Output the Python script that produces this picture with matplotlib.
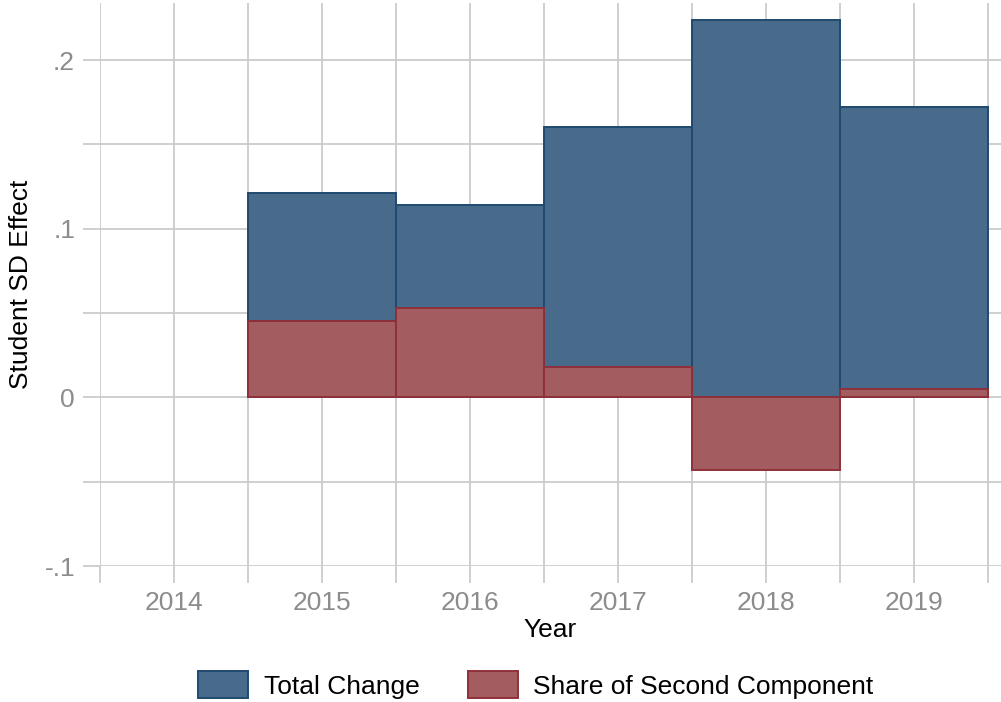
import numpy as np
import matplotlib.pyplot as plt
from matplotlib.ticker import FixedLocator, FuncFormatter
from matplotlib.patches import Patch

plt.rcParams['font.family'] = ['Liberation Sans', 'DejaVu Sans']

## the data
years = [2015, 2016, 2017, 2018, 2019]
total_change = [0.121, 0.114, 0.160, 0.224, 0.172]
second_share = [0.045, 0.053, 0.018, -0.043, 0.005]

## colours
blue_fill, blue_edge = '#486b8c', '#1f4a70'
red_fill, red_edge = '#a35c5f', '#8e3039'
grid_col = '#cccccc'
tick_col = '#8c8c8c'

fig = plt.figure(figsize=(10.01, 7.02), dpi=100)
ax = fig.add_axes([100 / 1001, 136 / 702, 901 / 1001, 563 / 702])

# bars, one year wide, second component drawn on top
ax.bar(years, total_change, width=1.0, color=blue_fill, edgecolor=blue_edge,
       linewidth=1.4, zorder=3)
ax.bar(years, second_share, width=1.0, color=red_fill, edgecolor=red_edge,
       linewidth=1.4, zorder=4)

# axes and grid
ax.set_xlim(2013.5, 2019.59)
ax.set_ylim(-0.1, 0.2338)
ax.xaxis.set_major_locator(FixedLocator([2014, 2015, 2016, 2017, 2018, 2019]))
ax.xaxis.set_minor_locator(FixedLocator(np.arange(2013.5, 2020, 1.0)))
ax.yaxis.set_major_locator(FixedLocator([-0.1, 0, 0.1, 0.2]))
ax.yaxis.set_minor_locator(FixedLocator([-0.05, 0.05, 0.15]))
ax.yaxis.set_major_formatter(FuncFormatter(
    lambda v, p: '0' if abs(v) < 1e-9 else ('%g' % v).replace('0.', '.')))

for s in ax.spines.values():
    s.set_visible(False)
ax.grid(True, which='both', color=grid_col, linewidth=1.3, zorder=0)
ax.set_axisbelow(True)
ax.tick_params(which='both', length=12, width=1.3, color=grid_col,
               labelcolor=tick_col, labelsize=19, pad=6)

ax.set_xlabel('Year', fontsize=19, labelpad=2)
ax.set_ylabel('Student SD Effect', fontsize=19, labelpad=8)

## legend
handles = [Patch(facecolor=blue_fill, edgecolor=blue_edge, linewidth=1.4),
           Patch(facecolor=red_fill, edgecolor=red_edge, linewidth=1.4)]
fig.legend(handles, ['Total Change', 'Share of Second Component'],
           loc='center', bbox_to_anchor=(536 / 1001, 1 - 685 / 702), ncol=2,
           frameon=False, fontsize=19, handlelength=1.9, handleheight=1.2,
           columnspacing=1.8, handletextpad=0.6)

fig.savefig('out.png', dpi=100)
